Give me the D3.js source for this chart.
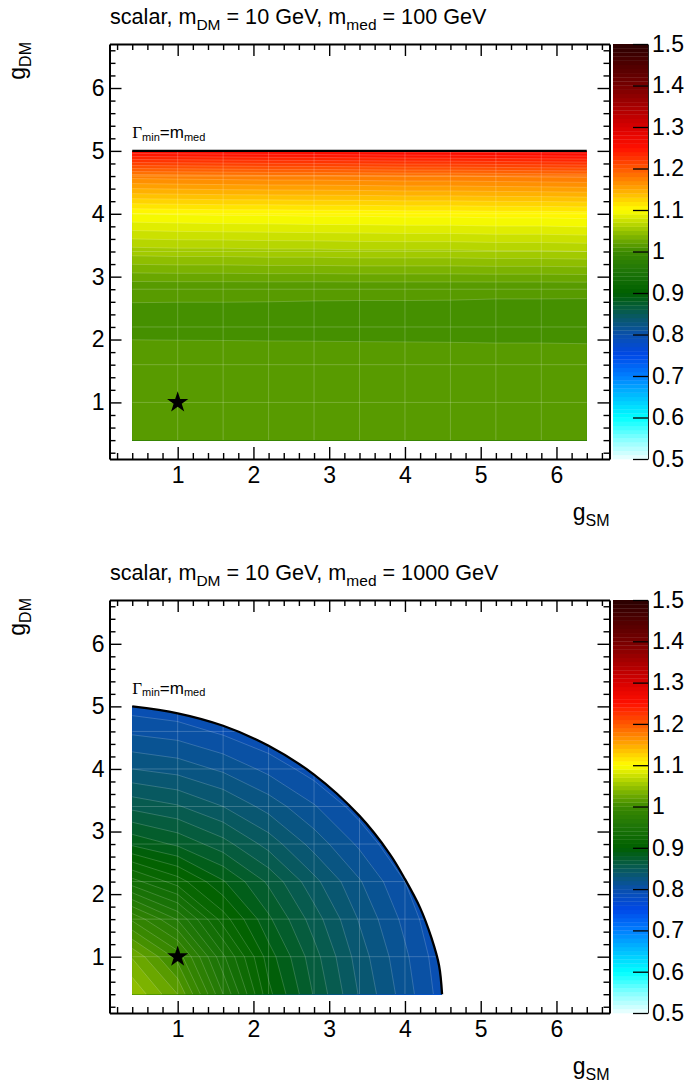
<!DOCTYPE html>
<html><head><meta charset="utf-8">
<script src="https://cdn.jsdelivr.net/npm/d3@7"></script>
<style>
body{margin:0;background:#fff}
svg{display:block}
text{font-family:"Liberation Sans",Arial,Helvetica,sans-serif;fill:#000}
</style>
</head><body>
<svg id="c" width="689" height="1092"></svg>
<script>
// ---------- data ----------
const gSM = [0.4,1.0,1.6,2.2,2.8,3.4,4.0,4.6,5.2,5.8,6.4];
const gDM = [0.4,1.0,1.6,2.2,2.8,3.4,4.0,4.6,5.2,5.8,6.4];

// rows: gDM index, columns: gSM index  (m_med = 100 GeV)
const zTop = [
  [1.0155,1.0156,1.0155,1.0154,1.0155,1.0156,1.0155,1.0154,1.0155,1.0155,1.0154],
  [1.0150,1.0151,1.0150,1.0149,1.0150,1.0151,1.0150,1.0149,1.0150,1.0150,1.0149],
  [1.0135,1.0135,1.0134,1.0134,1.0133,1.0133,1.0132,1.0132,1.0131,1.0131,1.0130],
  [1.0082,1.0081,1.0081,1.0080,1.0080,1.0079,1.0079,1.0078,1.0077,1.0077,1.0076],
  [1.0110,1.0110,1.0110,1.0110,1.0109,1.0109,1.0109,1.0109,1.0108,1.0108,1.0108],
  [1.055,1.056,1.056,1.057,1.057,1.058,1.058,1.058,1.059,1.059,1.060],
  [1.100,1.101,1.102,1.102,1.103,1.103,1.104,1.104,1.105,1.105,1.106],
  [1.175,1.176,1.177,1.178,1.178,1.179,1.180,1.180,1.181,1.182,1.183],
  [1.300,1.301,1.302,1.303,1.304,1.305,1.306,1.307,1.308,1.309,1.310],
  [1.420,1.420,1.420,1.420,1.420,1.420,1.420,1.420,1.420,1.420,1.420],
  [1.500,1.500,1.500,1.500,1.500,1.500,1.500,1.500,1.500,1.500,1.500]
];

// rows: gDM index, columns: gSM index  (m_med = 1000 GeV)
const zBottom = [
  [1.049,1.020,0.960,0.903,0.869,0.839,0.815,0.791,0.771,0.753,0.737],
  [1.029,0.996,0.942,0.895,0.864,0.835,0.812,0.789,0.770,0.752,0.736],
  [0.988,0.959,0.915,0.882,0.855,0.829,0.807,0.785,0.766,0.750,0.734],
  [0.934,0.915,0.891,0.868,0.843,0.821,0.800,0.780,0.762,0.746,0.731],
  [0.888,0.878,0.864,0.846,0.826,0.808,0.789,0.772,0.756,0.741,0.727],
  [0.857,0.851,0.840,0.826,0.811,0.795,0.779,0.764,0.749,0.735,0.722],
  [0.830,0.826,0.818,0.807,0.795,0.782,0.768,0.755,0.742,0.729,0.717],
  [0.808,0.805,0.798,0.790,0.780,0.769,0.757,0.745,0.733,0.722,0.710],
  [0.789,0.786,0.781,0.774,0.766,0.756,0.746,0.735,0.725,0.715,0.704],
  [0.772,0.770,0.766,0.760,0.753,0.745,0.736,0.727,0.717,0.708,0.698],
  [0.757,0.755,0.751,0.746,0.740,0.733,0.725,0.717,0.708,0.700,0.691]
];

// Gamma_min = m_med boundaries
const topBoundaryGSM = [0.4, 6.4];
const topBoundaryGDM = [5.0, 5.0];
const bottomBoundaryGSM = [0.4,1.0,1.6,2.2,2.8,3.4,3.8,4.0,4.2,4.35,4.45,4.49];
const bottomBoundaryGDM = [5.0,4.89,4.69,4.37,3.91,3.25,2.64,2.24,1.78,1.30,0.86,0.4];

// benchmark point
const starGSM = [1];
const starGDM = [1];

const xTickValues = [1,2,3,4,5,6];
const yTickValues = [1,2,3,4,5,6];
const zTickValues = [0.5,0.6,0.7,0.8,0.9,1.0,1.1,1.2,1.3,1.4,1.5];
const zTickLabels = ["0.5","0.6","0.7","0.8","0.9","1","1.1","1.2","1.3","1.4","1.5"];

const titleTop = ["scalar, m","DM"," = 10 GeV, m","med"," = 100 GeV"];
const titleBottom = ["scalar, m","DM"," = 10 GeV, m","med"," = 1000 GeV"];

// palette
const paletteValues = [0.5,0.55,0.6,0.65,0.7,0.75,0.8,0.85,0.9,0.95,1.0,1.05,1.1,1.15,1.2,1.25,1.3,1.4,1.5];
const paletteColors = ["#f0ffff","#80ffff","#00ffff","#00c0ff","#0080ff","#0048e8","#0a50ac","#085a58","#006000","#1c7408","#3c8a00","#98c400","#ffff00","#ffa800","#ff5800","#ff1000","#d80000","#760000","#2a0000"];
const zMin = 0.5, zMax = 1.5, nLevels = 100;

// ---------- drawing ----------
const svg = d3.select("#c");
const color = d3.scaleLinear().domain(paletteValues).range(paletteColors).interpolate(d3.interpolateRgb).clamp(true);
const levels = d3.range(nLevels).map(i => zMin + (zMax - zMin) * i / nLevels);
const dz = (zMax - zMin) / nLevels;

const panels = [
  {top:44, bottom:459, z:zTop, title:titleTop, bx:topBoundaryGSM, by:topBoundaryGDM, curve:d3.curveLinear, id:"p0"},
  {top:600, bottom:1013, z:zBottom, title:titleBottom, bx:bottomBoundaryGSM, by:bottomBoundaryGDM, curve:d3.curveCatmullRom, id:"p1"}
];

const X0 = 109.5, X1 = 609.5;
const CB0 = 613, CB1 = 648;
const LBL = "23px";

panels.forEach(p => {
  const x = d3.scaleLinear().domain([0.1, 6.7]).range([X0, X1]);
  const y = d3.scaleLinear().domain([0.1, 6.7]).range([p.bottom, p.top]);
  const g = svg.append("g");

  // clip region (allowed region below Gamma_min = m_med)
  const line = d3.line().x((d,i) => x(p.bx[i])).y((d,i) => y(p.by[i])).curve(p.curve);
  const bline = line(p.bx);
  const clipD = bline + "L" + x(p.bx[p.bx.length-1]) + "," + y(gDM[0]) + "L" + x(gSM[0]) + "," + y(gDM[0]) + "Z";
  svg.append("defs").append("clipPath").attr("id", "clip" + p.id).append("path").attr("d", clipD);

  // contours
  const values = p.z.flat();
  const contours = d3.contours().size([gSM.length, gDM.length]).thresholds(levels)(values);
  const gi = d3.scaleLinear().domain([0.5, gSM.length - 0.5]).range([gSM[0], gSM[gSM.length-1]]);
  const gj = d3.scaleLinear().domain([0.5, gDM.length - 0.5]).range([gDM[0], gDM[gDM.length-1]]);
  const proj = d3.geoTransform({point(px, py){ this.stream.point(x(gi(px)), y(gj(py))); }});
  const path = d3.geoPath(proj);
  const cg = g.append("g").attr("clip-path", "url(#clip" + p.id + ")");
  cg.selectAll("path.band").data(contours).join("path")
    .attr("class","band")
    .attr("d", path)
    .attr("fill", d => color(d.value + dz/2))
    .attr("stroke", "rgba(255,255,255,0.3)")
    .attr("stroke-width", 0.6);
  // faint cell grid lines
  cg.selectAll("line.gx").data(gSM.slice(1, -1)).join("line")
    .attr("x1", d => x(d)).attr("x2", d => x(d)).attr("y1", y(gDM[0])).attr("y2", p.top)
    .attr("stroke","rgba(255,255,255,0.25)").attr("stroke-width",0.8);
  cg.selectAll("line.gy").data(gDM.slice(1, -1)).join("line")
    .attr("y1", d => y(d)).attr("y2", d => y(d)).attr("x1", x(gSM[0])).attr("x2", X1)
    .attr("stroke","rgba(255,255,255,0.25)").attr("stroke-width",0.8);

  // boundary line
  g.append("path").attr("d", bline).attr("fill","none").attr("stroke","#000").attr("stroke-width",2.3);

  // boundary label
  const lab = g.append("text").attr("x", x(gSM[0])).attr("y", y(p.by[0]) - 12.5);
  lab.append("tspan").text("\u0393").style("font-family","'Liberation Serif','Times New Roman',serif").style("font-size","17px");
  lab.append("tspan").text("min").style("font-size","11px").attr("dy", 2.5);
  lab.append("tspan").text("=m").style("font-size","17px").attr("dy", -2.5);
  lab.append("tspan").text("med").style("font-size","11px").attr("dy", 2.5);

  // star
  g.selectAll("path.star").data(starGSM).join("path")
    .attr("class","star")
    .attr("transform", (d,i) => `translate(${x(d)},${y(starGDM[i])})`)
    .attr("d", d3.symbol().type(d3.symbolStar).size(140)())
    .attr("fill","#000");

  // axes
  const minor = d3.range(1, 34).filter(i => i % 5 !== 0).map(i => i * 0.2);
  const axStyle = sel => { sel.selectAll("path.domain").attr("stroke","#000").attr("stroke-width",2);
                           sel.selectAll(".tick line").attr("stroke","#000").attr("stroke-width",1.4);
                           sel.selectAll(".tick text").style("font-size",LBL).attr("fill","#000"); };
  // bottom
  g.append("g").attr("transform",`translate(0,${p.bottom})`)
    .call(d3.axisBottom(x).tickValues(minor).tickSize(-6).tickSizeOuter(0).tickFormat(""))
    .call(axStyle).select("path.domain").remove();
  g.append("g").attr("transform",`translate(0,${p.bottom})`)
    .call(d3.axisBottom(x).tickValues(xTickValues).tickSize(-12).tickSizeOuter(0).tickPadding(8).tickFormat(d3.format("d")))
    .call(axStyle);
  // top
  g.append("g").attr("transform",`translate(0,${p.top})`)
    .call(d3.axisTop(x).tickValues(minor).tickSize(-6).tickSizeOuter(0).tickFormat(""))
    .call(axStyle).select("path.domain").remove();
  g.append("g").attr("transform",`translate(0,${p.top})`)
    .call(d3.axisTop(x).tickValues(xTickValues).tickSize(-12).tickSizeOuter(0).tickFormat(""))
    .call(axStyle);
  // left
  g.append("g").attr("transform",`translate(${X0},0)`)
    .call(d3.axisLeft(y).tickValues(minor).tickSize(-6).tickSizeOuter(0).tickFormat(""))
    .call(axStyle).select("path.domain").remove();
  g.append("g").attr("transform",`translate(${X0},0)`)
    .call(d3.axisLeft(y).tickValues(yTickValues).tickSize(-12).tickSizeOuter(0).tickPadding(5).tickFormat(d3.format("d")))
    .call(axStyle);
  // right
  g.append("g").attr("transform",`translate(${X1},0)`)
    .call(d3.axisRight(y).tickValues(minor).tickSize(-6).tickSizeOuter(0).tickFormat(""))
    .call(axStyle).select("path.domain").remove();
  g.append("g").attr("transform",`translate(${X1},0)`)
    .call(d3.axisRight(y).tickValues(yTickValues).tickSize(-12).tickSizeOuter(0).tickFormat(""))
    .call(axStyle);

  // colour bar
  const zc = d3.scaleLinear().domain([zMin, zMax]).range([p.bottom, p.top]);
  g.append("g").selectAll("rect").data(levels).join("rect")
    .attr("x", CB0).attr("width", CB1 - CB0)
    .attr("y", d => zc(d + dz)).attr("height", d => zc(d) - zc(d + dz) + 0.3)
    .attr("fill", d => color(d + dz/2));
  g.append("g").attr("transform",`translate(${CB1},0)`)
    .call(d3.axisRight(zc).tickValues(zTickValues).tickSize(-15).tickSizeOuter(0).tickPadding(4)
          .tickFormat((d,i) => zTickLabels[i]))
    .call(sel => { sel.select("path.domain").attr("stroke","#222").attr("stroke-width",1);
                   sel.selectAll(".tick line").attr("stroke","#000").attr("stroke-width",1.3);
                   sel.selectAll(".tick text").style("font-size",LBL).attr("fill","#000"); });

  // title
  const t = g.append("text").attr("x", 110).attr("y", p.top - 20).style("font-size","21.6px");
  p.title.forEach((s, i) => {
    const sp = t.append("tspan").text(s);
    if (i % 2 === 1) sp.style("font-size","15.5px").attr("dy", 6);
    else if (i > 0) sp.attr("dy", -6);
  });

  // x title
  const xt = g.append("text").attr("x", X1).attr("y", p.bottom + 61).attr("text-anchor","end").style("font-size","23px");
  xt.append("tspan").text("g");
  xt.append("tspan").text("SM").style("font-size","16px").attr("dy", 6);

  // y title
  const yt = g.append("text").attr("transform",`translate(25,${p.top - 2}) rotate(-90)`).attr("text-anchor","end").style("font-size","23px");
  yt.append("tspan").text("g");
  yt.append("tspan").text("DM").style("font-size","16px").attr("dy", 6);
});
</script>
</body></html>
